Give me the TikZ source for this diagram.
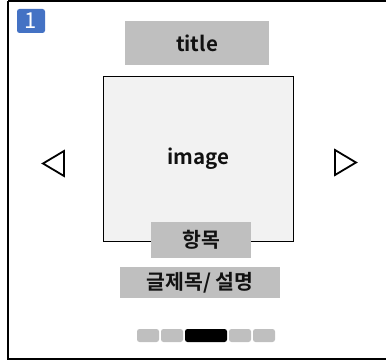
\documentclass[tikz,border=0pt]{standalone}
\usepackage{fontspec}
\setmainfont{Noto Sans CJK KR}[BoldFont={Noto Sans CJK KR Bold}]
\definecolor{boxgray}{HTML}{BFBFBF}
\definecolor{imgfill}{HTML}{F2F2F2}
\definecolor{badge}{HTML}{4472C4}
\definecolor{txt}{HTML}{111111}
\begin{document}
\begin{tikzpicture}[x=1pt,y=-1pt,
  labelfont/.style={font=\fontsize{20.5}{21}\selectfont\bfseries,text=txt},
  graybox/.style={fill=boxgray,draw=none,inner sep=0pt,labelfont},
  dot/.style={fill=boxgray,rounded corners=2.5pt},
  arrowtri/.style={draw=black,line width=1.8pt,line join=miter}]
\useasboundingbox (0,0) rectangle (386,361);
% frame
\draw[line width=2.2pt] (8,1) -- (390,1) (8,1) -- (8,359) -- (390,359);
% badge
\node[fill=badge,rounded corners=2.5pt,minimum width=28pt,minimum height=24pt,inner sep=0pt,text=white,font=\fontsize{22}{22}\selectfont] (badge) at (31,21) {1};
% title
\node[graybox,minimum width=144pt,minimum height=44pt] (title) at (197,43) {title};
% image
\node[draw=black,line width=0.8pt,fill=imgfill,minimum width=190pt,minimum height=165pt,inner sep=0pt,labelfont] (image) at (198,158.5) {\raisebox{-2pt}{image}};
% item
\node[graybox,minimum width=100pt,minimum height=36pt] (item) at (201,240) {항목};
% desc
\node[graybox,minimum width=160pt,minimum height=31pt] (desc) at (200,282.5) {글제목/ 설명};
% arrows
\draw[arrowtri] (64,151) -- (43,163.5) -- (64,176) -- cycle;
\draw[arrowtri] (335,150) -- (356,162.5) -- (335,175) -- cycle;
% pager
\fill[dot] (137,329) rectangle (159,342);
\fill[dot] (161,329) rectangle (183,342);
\fill[black,rounded corners=2.5pt] (185,329) rectangle (227,342);
\fill[dot] (229,329) rectangle (251,342);
\fill[dot] (253,329) rectangle (275,342);
\end{tikzpicture}
\end{document}
